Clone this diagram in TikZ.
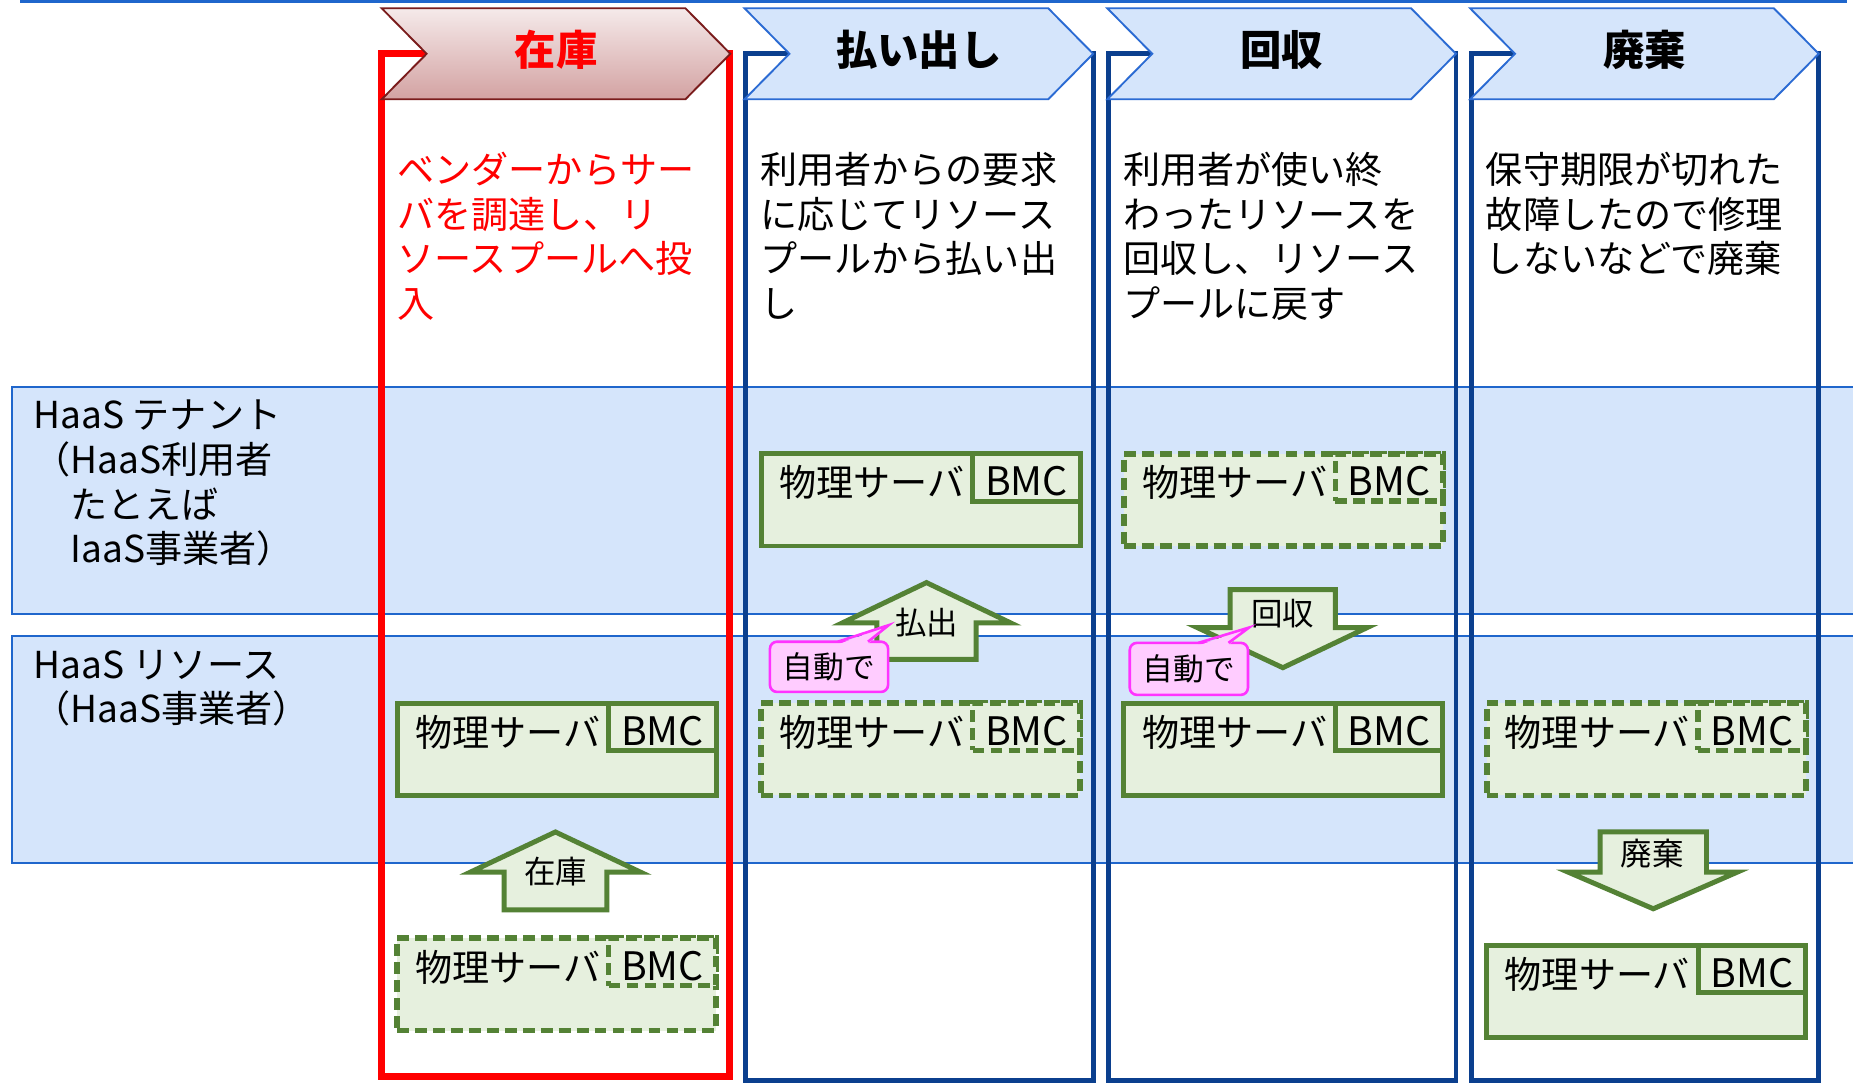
\documentclass[tikz,border=0pt]{standalone}
\usepackage{fontspec}
\setmainfont{Noto Sans CJK JP}
\usetikzlibrary{calc}
\definecolor{toplinec}{HTML}{1F66CC}
\definecolor{bandfill}{HTML}{D5E5FB}
\definecolor{bandline}{HTML}{1F66CC}
\definecolor{colframe}{HTML}{0B3F8E}
\definecolor{chevfill}{HTML}{D5E5FB}
\definecolor{chevline}{HTML}{2B6BD3}
\definecolor{chevredline}{HTML}{7A1C1C}
\definecolor{chevredtop}{HTML}{F5EAEA}
\definecolor{chevredbot}{HTML}{D3A2A2}
\definecolor{redc}{HTML}{FF0000}
\definecolor{grn}{HTML}{548235}
\definecolor{grnfill}{HTML}{E6F0DE}
\definecolor{callfill}{HTML}{FFCCFF}
\definecolor{callline}{HTML}{FF33FF}
\newcommand\srvbox[4]{%
  \node[#4, minimum width=135pt, minimum height=39pt, anchor=north west] (#1) at (#2,#3) {};
  \node[#4, minimum width=45.5pt, minimum height=20pt, anchor=north east] (#1b) at (#1.north east) {};
  \node[srvtext] (#1t) at ($(#1.north west)+(15,36.5)$) {物理サーバ};
  \node[bmctext] (#1m) at ($(#1b.north)+(0,35.5)$) {BMC};
}
\begin{document}
\begin{tikzpicture}[x=0.5pt,y=-0.5pt,
  band/.style={draw=bandline, line width=0.8pt, fill=bandfill},
  framered/.style={draw=redc, line width=3pt},
  frameblue/.style={draw=colframe, line width=2pt},
  chevblue/.style={draw=chevline, line width=0.8pt, fill=chevfill, line join=miter},
  chevred/.style={draw=chevredline, line width=0.8pt, top color=chevredtop, bottom color=chevredbot, line join=miter},
  title/.style={font=\fontsize{17.5}{20}\selectfont\bfseries, inner sep=0, anchor=base},
  desc/.style={font=\fontsize{15.7}{19}\selectfont, inner sep=0, anchor=base west},
  rowlbl/.style={font=\fontsize{15.7}{19}\selectfont, inner sep=0, anchor=base west},
  srvtext/.style={font=\fontsize{15.7}{19}\selectfont, inner sep=0, anchor=base west},
  bmctext/.style={font=\fontsize{16.6}{19}\selectfont, inner sep=0, anchor=base},
  srv/.style={draw=grn, fill=grnfill, line width=2.1pt, inner sep=0, outer sep=0},
  srvd/.style={srv, line width=2.4pt, dash pattern=on 5pt off 2.6pt},
  arr/.style={draw=grn, fill=grnfill, line width=2.1pt, line join=miter},
  arrlbl/.style={font=\fontsize{13.3}{16}\selectfont, inner sep=0, anchor=base},
  callbox/.style={draw=callline, fill=callfill, line width=1.1pt, rounded corners=3pt, inner sep=0, font=\fontsize{13}{16}\selectfont}
]
\useasboundingbox (0,0) rectangle (1568,916);
\fill[white] (0,0) rectangle (1568,916);

% top rule
\draw[toplinec, line width=1.3pt] (17,1.3) -- (1563,1.3);

% bands
\draw[band] (10,327.5) rectangle (1575,519.5);
\draw[band] (10,538.5) rectangle (1575,730.5);

% column frames
\draw[framered] (323,45.5) rectangle (617,911);
\foreach \L in {630,937,1244} {
  \draw[frameblue] (\L+1,45.5) rectangle (\L+295,914);
}

% chevrons
\draw[chevred] (323,7) -- (580,7) -- (618,45.5) -- (580,84) -- (323,84) -- (361,45.5) -- cycle;
\foreach \L in {630,937,1244} {
  \draw[chevblue] (\L,7) -- (\L+257,7) -- (\L+295,45.5) -- (\L+257,84) -- (\L,84) -- (\L+38,45.5) -- cycle;
}
\node[title, text=redc] (h1) at (470.5,55) {在庫};
\node[title] (h2) at (777.5,55) {払い出し};
\node[title] (h3) at (1084.5,55) {回収};
\node[title] (h4) at (1391.5,55) {廃棄};

% descriptions
\foreach \t [count=\i] in {ベンダーからサー,バを調達し、リ,ソースプールへ投,入}
  \node[desc, text=redc] (d1-\i) at (336,{155+38*(\i-1)}) {\t};
\foreach \t [count=\i] in {利用者からの要求,に応じてリソース,プールから払い出,し}
  \node[desc] (d2-\i) at (643,{155+38*(\i-1)}) {\t};
\foreach \t [count=\i] in {利用者が使い終,わったリソースを,回収し、リソース,プールに戻す}
  \node[desc] (d3-\i) at (950,{155+38*(\i-1)}) {\t};
\foreach \t [count=\i] in {保守期限が切れた,故障したので修理,しないなどで廃棄}
  \node[desc] (d4-\i) at (1257,{155+38*(\i-1)}) {\t};

% row labels
\foreach \t [count=\i] in {HaaS テナント,（HaaS利用者,　たとえば,　IaaS事業者）}
  \node[rowlbl] (rt-\i) at (28,{363+37.7*(\i-1)}) {\t};
\foreach \t [count=\i] in {HaaS リソース,（HaaS事業者）}
  \node[rowlbl] (rr-\i) at (28,{574+37.7*(\i-1)}) {\t};

% server boxes
\srvbox{s1}{336}{595}{srv}
\srvbox{s2}{336}{794}{srvd}
\srvbox{s3}{644}{384}{srv}
\srvbox{s4}{644}{595}{srvd}
\srvbox{s5}{951}{384}{srvd}
\srvbox{s6}{951}{595}{srv}
\srvbox{s7}{1258}{595}{srvd}
\srvbox{s8}{1258}{800}{srv}

% arrows
\draw[arr] (470,704) -- ++(72,34) -- ++(-28.5,0) -- ++(0,32) -- ++(-87,0) -- ++(0,-32) -- ++(-28.5,0) -- cycle;
\node[arrlbl] (a1) at (470,747.5) {在庫};
\draw[arr] (784,493) -- ++(71,34) -- ++(-29,0) -- ++(0,31) -- ++(-84,0) -- ++(0,-31) -- ++(-29,0) -- cycle;
\node[arrlbl] (a2) at (784,537) {払出};
\draw[arr] (1041,499) -- (1130,499) -- (1130,531) -- (1157,531) -- (1085.5,565) -- (1013,531) -- (1041,531) -- cycle;
\node[arrlbl] (a3) at (1085.5,529.5) {回収};
\draw[arr] (1354,704) -- (1444,704) -- (1444,738) -- (1470,738) -- (1399,769) -- (1327,738) -- (1354,738) -- cycle;
\node[arrlbl] (a4) at (1398,732) {廃棄};

% callouts
\node[callbox, minimum width=50pt, minimum height=21.25pt] (c1) at (701.5,564.25) {自動で};
\fill[callfill] (709.5,545.2) -- (752,529) -- (734,545.2) -- cycle;
\draw[callline, line width=1.1pt, line join=miter] (709,543) -- (752,529) -- (734.5,543);
\node[callbox, minimum width=50pt, minimum height=22pt] (c2) at (1006,566) {自動で};
\fill[callfill] (1014.5,546.2) -- (1057,531) -- (1039,546.2) -- cycle;
\draw[callline, line width=1.1pt, line join=miter] (1014,544) -- (1057,531) -- (1039.5,544);
\end{tikzpicture}
\end{document}
